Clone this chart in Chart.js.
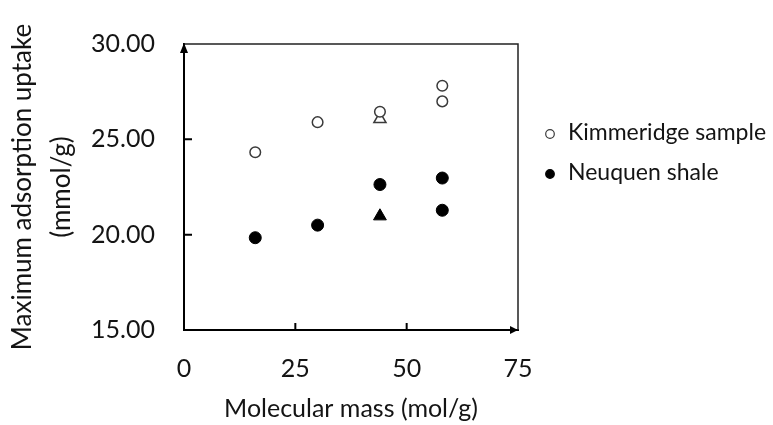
<!DOCTYPE html>
<html>
<head>
<meta charset="utf-8">
<script src="https://cdn.jsdelivr.net/npm/chart.js@4.4.0/dist/chart.umd.min.js"></script>
<style>
  html, body { margin: 0; padding: 0; background: #fff; }
</style>
</head>
<body>
<canvas id="uptake-chart" width="773" height="425"></canvas>
<script>
// values
const molecularMass = [16, 30, 44, 58, 58];
const kimmeridgeUptake = [24.32, 25.90, 26.45, 27.81, 26.99];
const neuquenUptake = [19.84, 20.50, 22.63, 22.97, 21.28];
// CO2 points drawn as triangles
const co2Mass = [44];
const kimmeridgeCo2 = [26.06];
const neuquenCo2 = [20.97];

const xTicks = [0, 25, 50, 75];
const yTicks = [15, 20, 25, 30];

const FONT = 'Lato';
const TEXT = '#141414';

const toPoints = (xs, ys) => xs.map((x, i) => ({ x: x, y: ys[i] }));

// inside tick marks, top/right frame and the two axis arrows
const axisDecor = {
  id: 'axisDecor',
  beforeDatasetsDraw(chart) {
    const { ctx, chartArea: a, scales } = chart;
    ctx.save();
    ctx.strokeStyle = '#222';
    ctx.lineWidth = 1.5;
    ctx.beginPath();
    ctx.moveTo(a.left, a.top);
    ctx.lineTo(a.right, a.top);
    ctx.lineTo(a.right, a.bottom);
    ctx.stroke();

    ctx.strokeStyle = '#000';
    ctx.lineWidth = 2;
    ctx.beginPath();
    xTicks.slice(1, -1).forEach(v => {
      const px = scales.x.getPixelForValue(v);
      ctx.moveTo(px, a.bottom);
      ctx.lineTo(px, a.bottom - 7);
    });
    yTicks.slice(1, -1).forEach(v => {
      const py = scales.y.getPixelForValue(v);
      ctx.moveTo(a.left, py);
      ctx.lineTo(a.left + 8, py);
    });
    ctx.stroke();

    ctx.fillStyle = '#000';
    ctx.beginPath();
    ctx.moveTo(a.left, a.top - 1);
    ctx.lineTo(a.left - 4, a.top + 9);
    ctx.lineTo(a.left + 4, a.top + 9);
    ctx.closePath();
    ctx.fill();
    ctx.beginPath();
    ctx.moveTo(a.right, a.bottom);
    ctx.lineTo(a.right - 8, a.bottom - 4);
    ctx.lineTo(a.right - 8, a.bottom + 4);
    ctx.closePath();
    ctx.fill();
    ctx.restore();
  }
};

// legend on the right, circles only
const sideLegend = {
  id: 'sideLegend',
  afterDraw(chart) {
    const { ctx } = chart;
    const rows = chart.data.datasets.filter(d => d.inLegend);
    ctx.save();
    ctx.font = '23px ' + FONT;
    ctx.textBaseline = 'alphabetic';
    ctx.textAlign = 'left';
    rows.forEach((d, i) => {
      const y = 134 + i * 40;
      ctx.fillStyle = d.backgroundColor;
      ctx.strokeStyle = d.borderColor;
      ctx.lineWidth = 1.2;
      Chart.helpers.drawPoint(ctx, { pointStyle: 'circle', radius: 4.3, borderWidth: 1.2 }, 550, y);
      ctx.fillStyle = TEXT;
      ctx.fillText(d.label, 568, y + 6);
    });
    ctx.restore();
  }
};

const ctx = document.getElementById('uptake-chart');

new Chart(ctx, {
  type: 'scatter',
  data: {
    datasets: [
      {
        label: 'Kimmeridge sample',
        inLegend: true,
        data: toPoints(molecularMass, kimmeridgeUptake),
        pointStyle: 'circle',
        pointRadius: 5.3,
        pointBorderWidth: 1.5,
        backgroundColor: '#fff',
        borderColor: '#3a3a3a'
      },
      {
        label: 'Neuquen shale',
        inLegend: true,
        data: toPoints(molecularMass, neuquenUptake),
        pointStyle: 'circle',
        pointRadius: 6,
        pointBorderWidth: 1,
        backgroundColor: '#000',
        borderColor: '#000'
      },
      {
        label: 'Kimmeridge CO2',
        data: toPoints(co2Mass, kimmeridgeCo2),
        pointStyle: 'triangle',
        pointRadius: 7,
        pointBorderWidth: 1.5,
        backgroundColor: 'rgba(255,255,255,0)',
        borderColor: '#3a3a3a'
      },
      {
        label: 'Neuquen CO2',
        data: toPoints(co2Mass, neuquenCo2),
        pointStyle: 'triangle',
        pointRadius: 7.4,
        pointBorderWidth: 1,
        backgroundColor: '#000',
        borderColor: '#000'
      }
    ]
  },
  options: {
    responsive: false,
    animation: false,
    layout: { padding: { top: 20, right: 255, left: 0, bottom: 0 } },
    plugins: {
      legend: { display: false },
      tooltip: { enabled: false }
    },
    scales: {
      x: {
        type: 'linear',
        min: 0,
        max: 75,
        afterBuildTicks: s => { s.ticks = xTicks.map(v => ({ value: v })); },
        afterFit: s => { s.height = 95; },
        grid: { display: false, drawTicks: false },
        border: { display: true, color: '#000', width: 2 },
        ticks: {
          padding: 24,
          color: TEXT,
          font: { family: FONT, size: 25 }
        },
        title: {
          display: true,
          text: 'Molecular mass (mol/g)',
          color: TEXT,
          font: { family: FONT, size: 25, lineHeight: 1.2 },
          padding: { top: 0, bottom: 1 }
        }
      },
      y: {
        type: 'linear',
        min: 15,
        max: 30,
        afterBuildTicks: s => { s.ticks = yTicks.map(v => ({ value: v })); },
        afterFit: s => { s.width = 184; },
        grid: { display: false, drawTicks: false },
        border: { display: true, color: '#000', width: 2 },
        ticks: {
          padding: 29,
          color: TEXT,
          font: { family: FONT, size: 25 },
          callback: v => v.toFixed(2)
        },
        title: {
          display: true,
          text: ['Maximum adsorption uptake', '(mmol/g)'],
          color: TEXT,
          font: { family: FONT, size: 26, lineHeight: '39px' },
          padding: { top: 3, bottom: 0 }
        }
      }
    }
  },
  plugins: [axisDecor, sideLegend]
});
</script>
</body>
</html>
